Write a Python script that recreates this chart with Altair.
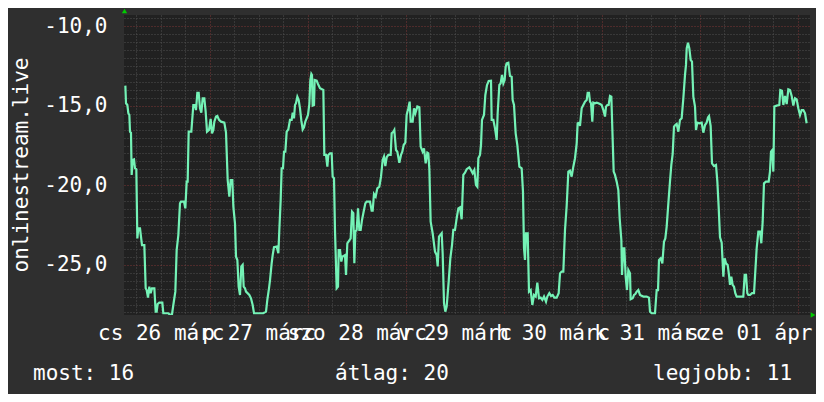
import altair as alt
import pandas as pd

# ---- data (hours since 26 Mar 03:00, value) ----
HOURS_A = [0.33,0.49,0.82,1.06,1.31,1.47,1.71,1.88,2.12,2.45,
           2.69,3.02,3.27,3.51,3.92,4.16,4.41,4.98,5.31,5.55,
           5.88,6.20,6.53,6.86,7.43,7.76,8.0,8.24,8.65,9.39,
           9.63,10.86,11.27,11.76,12.08,12.57,12.90,13.31,13.71,13.96,
           14.69,15.02,15.35,15.59,15.84,16.49,16.98,17.39,17.63,17.96,
           18.29,18.61,18.94,19.27,19.67,20.0,20.33,20.82,21.22,21.55,
           21.88,22.12,22.53,22.86,23.27,23.76,24.57,24.98,25.39,25.80,
           26.12,26.53,26.78,27.18,27.43,27.76,28.08,28.41,28.73,29.06,
           29.31,29.63,29.88,30.69,31.10,31.51,31.84,34.12,34.78,35.10,
           35.51,35.76,36.16,36.41,36.73,37.39,37.80,38.04,38.37,38.61,
           38.94,39.18,39.51,39.84,40.24,40.65,41.06,41.31,41.63,41.88,
           42.12,42.45,42.78,43.10,43.43,43.76,44.08,44.41,44.73,45.06,
           45.39,45.63,45.88,46.04,46.20,46.53,46.69,47.18,47.51,48.0,
           48.82,49.06,49.47,49.80,50.04,50.45,50.86,51.10,51.43,51.67,
           52.08,52.41,52.57,52.90,53.22,53.47,54.12,54.37,54.69,55.35]
VALUES_A = [-13.73,-14.84,-14.95,-15.47,-15.58,-16.63,-16.69,-19.35,-18.41,-18.37,
            -18.93,-18.99,-23.34,-22.71,-22.71,-23.23,-23.76,-23.76,-26.48,-26.59,
            -27.07,-26.38,-26.79,-26.48,-26.48,-27.95,-27.95,-27.47,-27.38,-27.38,
            -28.05,-28.05,-28.16,-28.11,-27.53,-26.69,-24.07,-23.13,-21.14,-21.03,
            -21.03,-21.45,-19.77,-19.77,-16.63,-16.63,-14.95,-14.95,-15.27,-14.18,
            -14.18,-15.16,-15.43,-14.53,-14.53,-15.37,-16.63,-16.52,-15.83,-16.73,
            -16.52,-16.0,-15.68,-15.64,-15.89,-16.0,-16.06,-16.69,-19.67,-20.71,
            -19.67,-19.67,-21.35,-22.39,-24.49,-24.70,-26.38,-26.90,-25.11,-25.01,
            -26.38,-26.48,-26.69,-26.90,-27.11,-27.53,-28.05,-28.05,-27.95,-27.21,
            -26.48,-25.96,-24.91,-24.39,-23.90,-23.86,-24.28,-22.81,-20.92,-18.93,
            -18.93,-17.89,-17.89,-16.63,-16.49,-15.89,-15.89,-15.43,-15.79,-14.95,
            -14.84,-14.43,-14.64,-15.16,-15.94,-16.49,-16.35,-16.0,-15.79,-15.58,
            -14.89,-13.38,-13.0,-13.07,-14.99,-14.95,-13.38,-13.42,-13.63,-13.90,
            -14.01,-18.09,-18.09,-18.83,-18.09,-17.99,-17.99,-19.46,-19.56,-22.81,
            -26.48,-26.38,-24.07,-24.07,-24.80,-24.49,-24.39,-25.64,-23.65,-23.40]

HOURS_B = [55.51,55.84,56.16,56.41,56.65,56.98,57.31,57.63,57.96,58.29,
           58.61,59.10,59.43,60.24,60.65,60.90,61.22,61.63,62.04,62.53,
           62.94,63.35,63.67,64.0,64.33,64.73,65.31,65.55,65.96,66.20,
           66.61,66.94,67.43,67.84,68.16,68.49,68.90,69.22,69.63,69.96,
           70.20,70.69,71.02,71.35,71.84,72.33,72.65,73.14,73.47,73.88,
           74.29,74.53,74.78,75.10,75.59,76.16,76.57,76.82,77.14,77.80,
           78.04,78.37,78.69,79.02,79.51,79.92,80.33,80.65,81.06,81.47,
           81.88,82.29,82.69,83.10,83.51,83.92,84.57,84.98,85.39,85.80,
           86.20,86.53,86.78,87.18,87.43,87.67,88.16,88.49,88.90,89.31,
           89.88,90.04,90.45,90.86,91.27,91.51,91.92,92.24,92.57,92.90,
           93.22,93.47,93.71,94.12,94.53,94.94,95.18,95.51,95.92,96.33,
           96.82,97.39,97.71,97.96,98.20,98.45,98.86,99.18,99.59,100.0,
           100.41,100.82,101.22,101.63,102.04,102.45,102.86,103.35,103.67,104.16,
           104.57,104.98,105.39,105.96,106.45,106.78,107.18,107.59,108.0,108.41,
           108.82,109.22,109.63,110.04,110.45,110.86,111.10,111.51]
VALUES_B = [-23.34,-21.66,-21.76,-24.91,-22.92,-22.81,-21.45,-22.81,-22.81,-22.18,
            -21.76,-21.14,-21.03,-21.03,-21.60,-21.60,-20.55,-20.71,-20.19,-20.09,
            -19.46,-18.41,-18.20,-18.79,-18.24,-18.09,-18.09,-16.73,-16.63,-16.52,
            -17.78,-17.89,-18.58,-18.09,-17.89,-17.47,-17.32,-15.58,-15.16,-14.74,
            -16.0,-16.0,-15.16,-15.47,-15.05,-15.10,-17.57,-17.89,-17.68,-18.62,
            -17.95,-17.99,-18.99,-22.29,-23.02,-24.17,-24.39,-25.11,-23.23,-23.02,
            -24.28,-27.42,-27.95,-27.63,-26.06,-24.59,-23.76,-22.81,-22.81,-22.08,
            -21.45,-21.39,-22.14,-19.35,-19.21,-18.99,-18.87,-19.04,-19.25,-19.04,
            -19.98,-20.09,-18.30,-18.09,-17.47,-15.89,-15.58,-14.32,-13.69,-13.44,
            -13.42,-15.89,-15.89,-16.42,-17.15,-15.47,-13.69,-13.59,-13.06,-13.59,
            -13.38,-12.54,-12.33,-12.29,-13.13,-13.17,-14.64,-14.95,-16.73,-17.47,
            -18.83,-18.93,-20.40,-23.96,-24.70,-23.02,-23.02,-26.69,-26.59,-27.53,
            -26.90,-27.0,-26.12,-27.11,-27.07,-27.21,-27.0,-27.32,-27.0,-26.79,
            -26.96,-26.90,-27.07,-27.07,-26.79,-25.54,-25.43,-25.43,-22.81,-21.30,
            -19.14,-19.08,-19.46,-18.83,-18.30,-17.36,-16.10,-16.06]

HOURS_C = [111.67,112.08,112.49,112.90,113.31,113.55,113.88,114.12,114.37,114.69,
           114.94,115.35,115.76,116.16,116.57,116.98,117.39,117.80,118.04,118.37,
           118.69,119.02,119.35,119.59,119.92,120.24,120.65,121.06,121.39,121.80,
           121.96,122.29,122.53,122.86,123.18,123.51,123.92,124.08,124.57,124.90,
           125.22,125.55,125.96,126.37,127.18,128.0,128.57,128.82,129.22,130.04,
           130.45,130.78,131.02,131.43,131.84,132.24,132.57,132.90,133.31,133.71,
           134.04,134.37,134.69,135.02,135.35,135.76,136.16,136.57,136.98,137.39,
           137.63,137.80,138.12,138.45,138.78,139.10,139.43,139.84,140.08,140.41,
           140.90,141.47,141.88,142.29,142.69,143.02,143.27,143.67,144.0,144.49,
           144.98,145.31,145.63,145.96,146.37,146.78,147.10,147.43,147.84,148.16,
           148.41,148.73,149.06,149.39,149.71,150.04,150.45,151.27,151.67,152.0,
           152.33,152.65,152.90,153.31,153.80,154.29,154.53,154.94,155.35,155.76,
           156.08,156.41,156.73,157.22,157.88,158.20,158.45,158.78,159.02,159.27,
           159.84,160.49,160.73,161.14,161.47,161.88,162.29,162.69,163.10,163.51,
           163.92,164.33,164.73,165.14,165.55,165.96,166.37,166.78,167.18]
VALUES_C = [-16.27,-15.16,-14.95,-14.74,-14.64,-14.18,-14.18,-14.74,-14.84,-16.0,
            -14.80,-14.84,-14.80,-14.84,-14.89,-14.95,-15.27,-15.68,-15.05,-14.95,
            -14.95,-14.38,-14.43,-16.42,-19.14,-19.35,-19.77,-20.30,-22.08,-23.44,
            -25.64,-23.96,-23.96,-25.75,-26.59,-25.33,-25.54,-27.17,-27.11,-26.90,
            -26.84,-26.69,-26.59,-26.90,-27.0,-27.0,-27.07,-27.95,-28.05,-28.05,
            -26.59,-26.59,-24.70,-24.59,-24.91,-23.55,-23.34,-22.60,-21.14,-19.77,
            -18.72,-18.03,-16.31,-16.21,-16.14,-16.63,-15.89,-15.79,-14.53,-13.06,
            -12.43,-11.39,-11.03,-11.39,-12.12,-12.22,-14.43,-15.05,-16.52,-16.06,
            -16.10,-16.06,-16.69,-16.21,-16.06,-15.73,-15.64,-16.27,-18.62,-18.79,
            -18.72,-19.77,-21.35,-23.27,-23.61,-25.75,-24.59,-24.91,-25.01,-25.64,
            -26.27,-25.75,-26.27,-26.38,-26.79,-27.0,-27.0,-27.0,-27.0,-25.64,
            -25.64,-26.79,-26.90,-26.90,-26.79,-26.79,-25.75,-23.96,-22.92,-22.92,
            -23.65,-22.29,-19.88,-19.77,-19.77,-19.14,-17.89,-17.78,-19.14,-15.05,
            -14.99,-14.95,-14.01,-14.05,-14.95,-14.38,-14.89,-13.97,-14.01,-14.38,
            -14.99,-14.53,-14.60,-15.16,-15.58,-15.27,-15.27,-15.47,-16.10]

DAY_LABELS = ["cs 26 márc", "p 27 márc", "szo 28 márc", "v 29 márc",
              "h 30 márc", "k 31 márc", "sze 01 ápr"]
X_TICKS = [3, 9, 15, 21, 27, 33, 39, 45, 51, 57, 63, 69, 75, 81, 87, 93, 99,
           105, 111, 117, 123, 129, 135, 141, 147, 153, 159, 165]
Y_TICKS = [-28.0, -27.5, -27.0, -26.5, -26.0, -25.5, -25.0, -24.5, -24.0, -23.5,
           -23.0, -22.5, -22.0, -21.5, -21.0, -20.5, -20.0, -19.5, -19.0, -18.5,
           -18.0, -17.5, -17.0, -16.5, -16.0, -15.5, -15.0, -14.5, -14.0, -13.5,
           -13.0, -12.5, -12.0, -11.5, -11.0, -10.5, -10.0, -9.5]
SERIES_NAME = "onlinestream.live"
STATS = ["most: 16", "átlag: 20", "legjobb: 11"]

FONT = "DejaVu Sans Mono"
FS = 21
BG = "#2f2f2f"
PLOT_BG = "#212121"
LINE = "#74f2b6"
MINOR = "#505050"
MAJOR = "#7c3636"
TEXT = "#ffffff"
ARROW = "#00cc00"

df = pd.DataFrame({"h": HOURS_A + HOURS_B + HOURS_C,
                   "v": VALUES_A + VALUES_B + VALUES_C})

label_array = "[" + ",".join("'" + s + "'" for s in DAY_LABELS) + "]"

x_axis = alt.Axis(
    values=X_TICKS, title=None, grid=True,
    gridColor={"condition": {"test": "(datum.value - 21) % 24 == 0", "value": MAJOR}, "value": MINOR},
    gridDash=[1, 2], gridWidth=1, ticks=False, domain=False,
    labelExpr="(datum.value - 9) % 24 == 0 ? " + label_array + "[(datum.value - 9) / 24] : ''",
    labelOverlap=False, labelFlush=False, labelFont=FONT, labelFontSize=FS,
    labelColor=TEXT, labelPadding=24, labelBaseline="alphabetic", labelAlign="center",
)
y_axis = alt.Axis(
    values=Y_TICKS, title=None, grid=True,
    gridColor={"condition": {"test": "datum.value % 5 == 0", "value": MAJOR}, "value": MINOR},
    gridDash=[1, 2], gridWidth=1, ticks=False, domain=False,
    labelExpr="datum.value % 5 == 0 ? (datum.value < 0 ? '-' : '') + replace(format(abs(datum.value), '.1f'), '.', ',') : ''",
    labelOverlap=False, labelFlush=False, labelFont=FONT, labelFontSize=FS,
    labelColor=TEXT, labelPadding=17, labelBaseline="middle",
)

line = alt.Chart(df).mark_line(color=LINE, strokeWidth=2.2, clip=True).encode(
    x=alt.X("h:Q", scale=alt.Scale(domain=[0, 168], nice=False, zero=False), axis=x_axis),
    y=alt.Y("v:Q", scale=alt.Scale(domain=[-28.16, -9.29], nice=False, zero=False), axis=y_axis),
)

def text_layer(txt, x, y, angle=0, align="left"):
    return alt.Chart(pd.DataFrame({"t": [txt]})).mark_text(
        font=FONT, fontSize=FS, color=TEXT, align=align, baseline="alphabetic", angle=angle
    ).encode(text="t:N", x=alt.value(x), y=alt.value(y))

ytitle = alt.Chart(pd.DataFrame({"t": [SERIES_NAME]})).mark_text(
    font=FONT, fontSize=FS, color=TEXT, align="center", baseline="middle", angle=270
).encode(text="t:N", x=alt.value(-102), y=alt.value(150))

stat_layers = [text_layer(STATS[0], -91, 365), text_layer(STATS[1], 211, 365),
               text_layer(STATS[2], 529, 365)]

arrow_up = alt.Chart(pd.DataFrame({"t": [0]})).mark_point(
    shape="triangle-up", filled=True, color=ARROW, size=28, opacity=1
).encode(x=alt.value(0.5), y=alt.value(-4))
arrow_right = alt.Chart(pd.DataFrame({"t": [0]})).mark_point(
    shape="triangle-right", filled=True, color=ARROW, size=28, opacity=1
).encode(x=alt.value(689), y=alt.value(300))

chart = alt.layer(line, ytitle, *stat_layers, arrow_up, arrow_right).properties(
    width=686, height=300,
    autosize=alt.AutoSizeParams(type="none"),
    padding={"left": 116, "top": 7, "right": 6, "bottom": 79},
).configure(background=BG).configure_view(fill=PLOT_BG, stroke=None)

chart.save("out.html", embed_options={"renderer": "svg", "actions": False})
